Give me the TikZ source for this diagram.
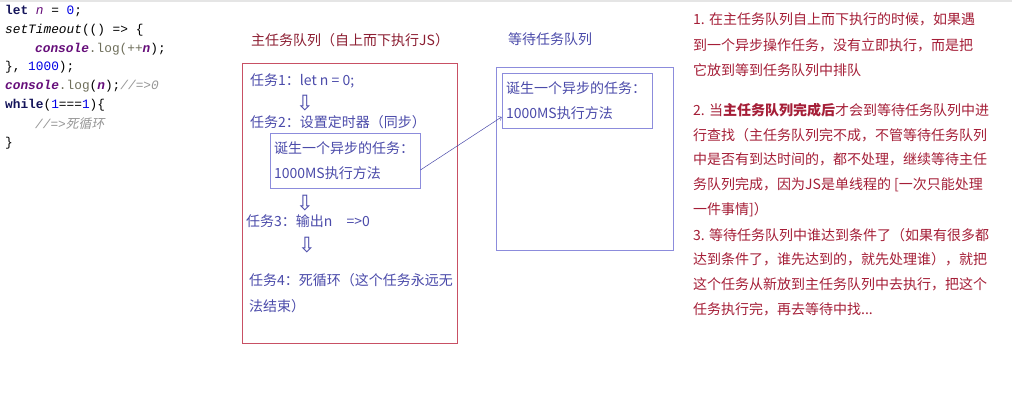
\documentclass[tikz,border=0pt]{standalone}
\usepackage{fontspec}
\newfontfamily\cjk{Noto Sans CJK SC}
\newfontfamily\cjksl{Noto Sans CJK SC}[FakeSlant=0.2]
\newfontfamily\mono{Liberation Mono}
\newfontfamily\arr{DejaVu Sans}
\usetikzlibrary{arrows.meta}
\definecolor{kwc}{RGB}{20,20,90}
\definecolor{purp}{RGB}{102,14,122}
\definecolor{numc}{RGB}{0,0,230}
\definecolor{cmc}{RGB}{150,150,150}
\definecolor{logc}{RGB}{110,110,90}
\definecolor{mred}{RGB}{200,80,100}
\definecolor{tred}{RGB}{140,30,50}
\definecolor{rtext}{RGB}{165,30,55}
\definecolor{btext}{RGB}{75,75,170}
\definecolor{bbox}{RGB}{140,140,220}
\newcommand{\kw}[1]{{\color{kwc}\bfseries #1}}
\newcommand{\vr}[1]{{\color{purp}\itshape #1}}
\newcommand{\nm}[1]{{\color{numc}#1}}
\newcommand{\cm}[1]{{\color{cmc}\itshape #1}}
\tikzset{
  code/.style={anchor=west,inner sep=0pt,font=\mono\fontsize{12.8}{14}\selectfont,text=black},
  btxt/.style={anchor=west,inner sep=0pt,font=\cjk\fontsize{14}{25}\selectfont,text=btext},
  rtxt/.style={anchor=west,inner sep=0pt,font=\cjk\fontsize{14}{25}\selectfont,text=rtext},
  darr/.style={inner sep=0pt,font=\arr\fontsize{21}{22}\selectfont,text=btext},
  mbox/.style={draw=mred,line width=0.8pt,inner sep=0pt},
  wbox/.style={draw=bbox,line width=0.8pt,inner sep=0pt},
  ibox/.style={draw=bbox,line width=0.8pt,inner sep=4pt,align=left,text width=142pt,
    minimum height=55pt,font=\cjk\fontsize{14}{25}\selectfont,text=btext},
  conn/.style={draw=btext,line width=0.5pt,-{To[length=3pt,width=5pt]}}
}
\begin{document}
\begin{tikzpicture}[x=1pt,y=-1pt]
\useasboundingbox (0,0) rectangle (1012,405);
\fill[white] (0,0) rectangle (1012,405);
\draw[gray!20,line width=1.5pt] (0,0.75) -- (1012,0.75);
% code
\node[code] (c1) at (5,11) {\kw{let} \vr{n} = \nm{0};};
\node[code] (c2) at (5,30) {{\itshape setTimeout}(() => \{};
\node[code] (c3) at (35,49) {\vr{\bfseries console}{\color{logc}.log(++}\vr{\bfseries n});};
\node[code] (c4) at (5,67) {\}, \nm{1000});};
\node[code] (c5) at (5,86) {\vr{\bfseries console}{\color{logc}.log}(\vr{\bfseries n});\cm{//=>0}};
\node[code] (c6) at (5,105) {\kw{while}(\nm{1}===\nm{1})\{};
\node[code] (c7) at (35,124) {\cm{//=>{\cjksl 死循环}}};
\node[code] (c8) at (5,143) {\}};
% titles
\node[btxt,text=tred] (tm) at (251,40) {主任务队列（自上而下执行JS）};
\node[btxt] (tw) at (508,39) {等待任务队列};
% main box
\node[mbox,minimum width=215pt,minimum height=280pt] (m) at (349.5,203) {};
\node[btxt] (k1) at (250,81) {任务1：let n = 0;};
\node[darr] (a1) at (305,103) {⇩};
\node[btxt] (k2) at (250,122) {任务2：设置定时器（同步）};
\node[ibox] (t2) at (345,160.5) {诞生一个异步的任务：\\1000MS执行方法};
\node[darr] (a2) at (305,203) {⇩};
\node[btxt] (k3) at (246,221) {任务3：输出n\hspace{14pt}=>0};
\node[darr] (a3) at (307,245) {⇩};
\node[btxt] (k4) at (249,280) {任务4：死循环（这个任务永远无};
\node[btxt] (k4b) at (249,306) {法结束）};
% waiting box
\node[wbox,minimum width=177pt,minimum height=183pt] (w) at (584.5,158.5) {};
\node[ibox] (w1) at (577,100.5) {诞生一个异步的任务：\\1000MS执行方法};
\draw[conn] ([yshift=-9.5pt]t2.east) -- ([yshift=-16.5pt]w1.west);
% right text
\node[rtxt] (r1) at (693,19) {1. 在主任务队列自上而下执行的时候，如果遇};
\node[rtxt] (r2) at (693,45) {到一个异步操作任务，没有立即执行，而是把};
\node[rtxt] (r3) at (693,70) {它放到等到任务队列中排队};
\node[rtxt] (r4) at (693,110) {2. 当\textbf{主任务队列完成后}才会到等待任务队列中进};
\node[rtxt] (r5) at (693,135) {行查找（主任务队列完不成，不管等待任务队列};
\node[rtxt] (r6) at (693,159) {中是否有到达时间的，都不处理，继续等待主任};
\node[rtxt] (r7) at (693,185) {务队列完成，因为JS是单线程的 [一次只能处理};
\node[rtxt] (r8) at (693,210) {一件事情]）};
\node[rtxt] (r9) at (693,235) {3. 等待任务队列中谁达到条件了（如果有很多都};
\node[rtxt] (r10) at (693,259) {达到条件了，谁先达到的，就先处理谁），就把};
\node[rtxt] (r11) at (693,284) {这个任务从新放到主任务队列中去执行，把这个};
\node[rtxt] (r12) at (693,309) {任务执行完，再去等待中找...};
\end{tikzpicture}
\end{document}
